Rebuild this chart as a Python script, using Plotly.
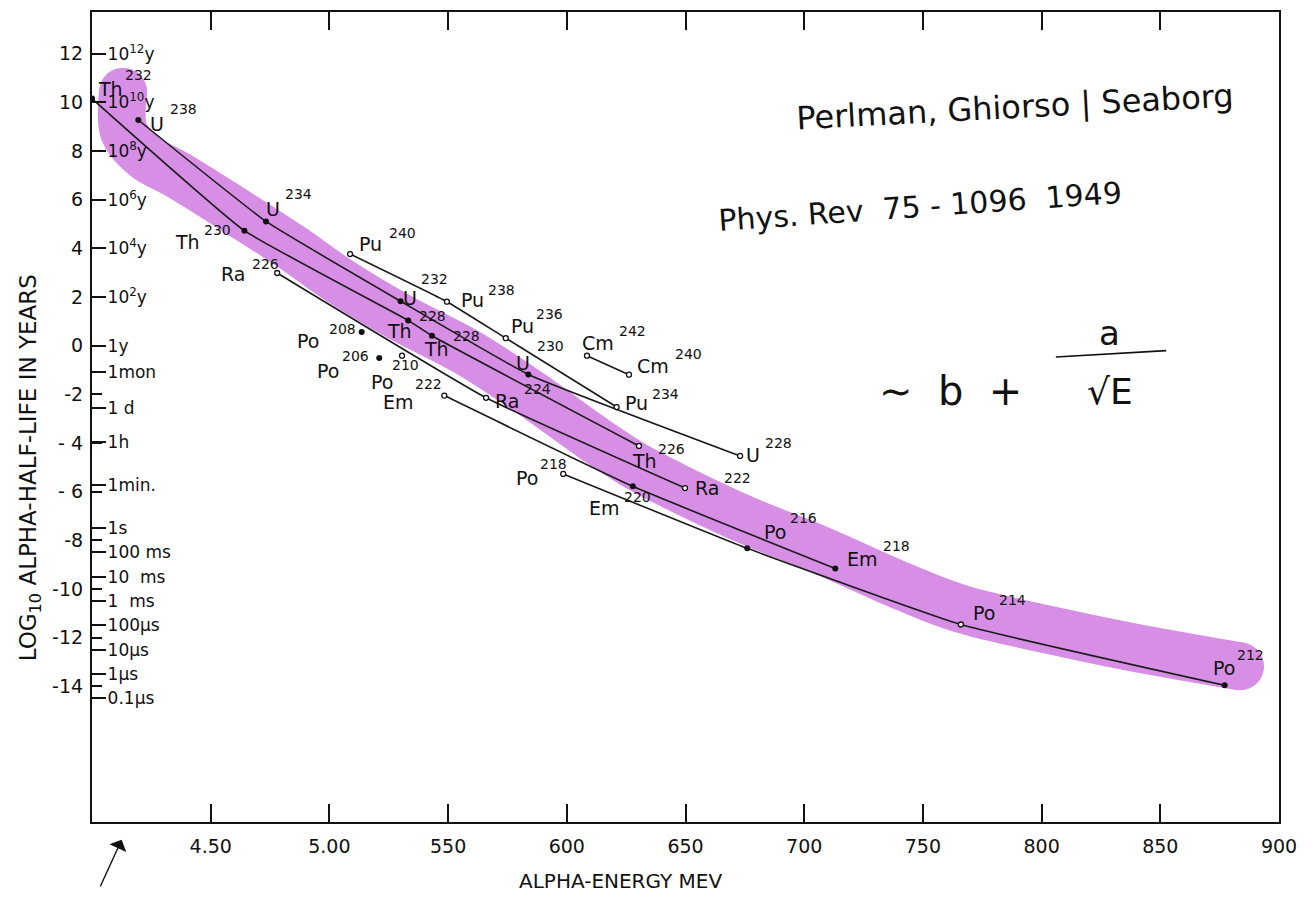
import math
import plotly.graph_objects as go

# ---------------- data ----------------
# alpha energy (MeV) and log10 alpha half-life (years)
th_E = [4.00, 4.642, 5.332, 5.432, 6.304]
th_T = [10.16, 4.73, 1.04, 0.41, -4.12]
th_A = ["232", "230", "228", "228", "226"]

u_E = [4.195, 4.733, 5.300, 5.838, 6.730]
u_T = [9.28, 5.11, 1.83, -1.18, -4.53]
u_A = ["238", "234", "232", "230", "228"]

pu_E = [5.087, 5.495, 5.743, 6.210]
pu_T = [3.77, 1.81, 0.31, -2.52]
pu_A = ["240", "238", "236", "234"]

cm_E = [6.085, 6.262]
cm_T = [-0.41, -1.19]
cm_A = ["242", "240"]

ra_E = [4.780, 5.660, 6.498]
ra_T = [2.99, -2.14, -5.85]
ra_A = ["226", "224", "222"]

em_E = [5.484, 6.278, 7.131]
em_T = [-2.05, -5.78, -9.16]
em_A = ["222", "220", "218"]

po_E = [5.985, 6.760, 7.660, 8.771]
po_T = [-5.27, -8.33, -11.46, -13.96]
po_A = ["218", "216", "214", "212"]

# isolated polonium points (no connecting line)
pol_E = [5.136, 5.210, 5.306]
pol_T = [0.56, -0.50, -0.41]
pol_A = ["208", "206", "210"]

# hand-drawn highlighter stroke along the trend
band_E = [4.131, 4.135, 4.223, 4.350, 4.455, 4.594, 4.834, 5.057, 5.297, 5.580,
          5.845, 6.110, 6.296, 6.490, 6.772, 7.054, 7.425, 7.656, 8.141, 8.499, 8.836]
band_T = [10.44, 8.80, 7.77, 7.08, 6.46, 5.60, 4.09, 2.57, 1.17, -0.27,
          -1.95, -3.80, -4.98, -5.96, -7.24, -8.34, -9.94, -10.80, -11.91, -12.61, -13.18]

# axis ticks
x_ticks = [4.5, 5.0, 5.5, 6.0, 6.5, 7.0, 7.5, 8.0, 8.5, 9.0]
x_ticklabels = ["4.50", "5.00", "550", "600", "650", "700", "750", "800", "850", "900"]
y_ticks = [12, 10, 8, 6, 4, 2, 0, -2, -4, -6, -8, -10, -12, -14]
y_ticklabels = ["12", "10", "8", "6", "4", "2", "0", "-2", "- 4", "- 6", "-8", "-10", "-12", "-14"]

# time scale (durations in years)
YEAR_S = 365.25 * 24 * 3600
time_years = [1e12, 1e10, 1e8, 1e6, 1e4, 1e2, 1.0, 1 / 12, 1 / 365.25, 1 / (365.25 * 24),
              60 / YEAR_S, 1 / YEAR_S, 0.1 / YEAR_S, 0.01 / YEAR_S, 1e-3 / YEAR_S,
              1e-4 / YEAR_S, 1e-5 / YEAR_S, 1e-6 / YEAR_S, 1e-7 / YEAR_S]
time_labels = ["10<sup>12</sup>y", "10<sup>10</sup>y", "10<sup>8</sup>y", "10<sup>6</sup>y",
               "10<sup>4</sup>y", "10<sup>2</sup>y", "1y", "1mon", "1 d", "1h", "1min.",
               "1s", "100 ms", "10  ms", "1  ms", "100μs", "10μs", "1μs", "0.1μs"]

# ---------------- styling (label offsets in px: sym dx, sym dy, mass dx, mass dy) ----------------
FONT = "DejaVu Sans, Liberation Sans, sans-serif"
series = [
    ("Th", th_E, th_T, th_A, True,
     [(18, 10, 46, 24), (-57, -11, -27, 1), (-9, -11, 24, 4), (5, -13, 35, 0), (6, -15, 33, -3)],
     [True, True, True, True, False]),
    ("U", u_E, u_T, u_A, True,
     [(19, -4, 45, 11), (7, 12, 32, 27), (9, 3, 34, 22), (-5, 11, 22, 28), (13, 1, 38, 13)],
     [True, True, True, True, False]),
    ("Pu", pu_E, pu_T, pu_A, True,
     [(20, 10, 52, 21), (26, 2, 55, 12), (17, 12, 44, 24), (20, 4, 49, 13)],
     [False, False, False, False]),
    ("Cm", cm_E, cm_T, cm_A, True,
     [(11, 13, 46, 25), (24, 9, 59, 21)],
     [False, False]),
    ("Ra", ra_E, ra_T, ra_A, True,
     [(-44, -1, -12, 9), (21, -3, 51, 9), (22, 0, 52, 10)],
     [False, False, False]),
    ("Em", em_E, em_T, em_A, True,
     [(-46, -6, -16, 12), (-28, -22, 5, -11), (27, 10, 61, 23)],
     [False, True, True]),
    ("Po", po_E, po_T, po_A, True,
     [(-36, -4, -10, 10), (28, 16, 56, 30), (23, 11, 52, 24), (-1, 17, 26, 30)],
     [False, True, False, True]),
    ("Po", pol_E, pol_T, pol_A, False,
     [(-54, -9, -19, 3), (-51, -13, -24, 2), (-20, -26, 3, -9)],
     [True, True, False]),
]

fig = go.Figure()

# highlighter band (drawn first, underneath)
BAND = "rgb(214,143,228)"
fig.add_trace(go.Scatter(x=band_E, y=band_T, mode="lines",
                         line=dict(color=BAND, width=48, shape="spline", smoothing=1.0),
                         hoverinfo="skip"))
fig.add_trace(go.Scatter(x=[band_E[0], band_E[-1]], y=[band_T[0], band_T[-1]], mode="markers",
                         marker=dict(color=BAND, size=48, line=dict(width=0)), hoverinfo="skip"))

annotations = []
for sym, E, T, A, connect, offs, filled in series:
    if connect:
        fig.add_trace(go.Scatter(x=E, y=T, mode="lines",
                                 line=dict(color="#1a1a1a", width=1.6, shape="spline", smoothing=0.35),
                                 hoverinfo="skip"))
    fx = [e for e, f in zip(E, filled) if f]
    fy = [t for t, f in zip(T, filled) if f]
    ox = [e for e, f in zip(E, filled) if not f]
    oy = [t for t, f in zip(T, filled) if not f]
    fig.add_trace(go.Scatter(x=fx, y=fy, mode="markers",
                             marker=dict(color="#111", size=6, symbol="circle"), hoverinfo="skip"))
    fig.add_trace(go.Scatter(x=ox, y=oy, mode="markers",
                             marker=dict(color="white", size=5, symbol="circle",
                                         line=dict(color="#111", width=1.3)), hoverinfo="skip"))
    for e, t, a, (sdx, sdy, mdx, mdy) in zip(E, T, A, offs):
        annotations.append(dict(x=e, y=t, xref="x", yref="y", text=sym, showarrow=False,
                                xanchor="center", yanchor="middle",
                                xshift=sdx, yshift=sdy, font=dict(family=FONT, size=19, color="#111")))
        annotations.append(dict(x=e, y=t, xref="x", yref="y", text=a, showarrow=False,
                                xanchor="center", yanchor="middle",
                                xshift=mdx, yshift=mdy, font=dict(family=FONT, size=14, color="#111")))

# axis titles
annotations.append(dict(x=-0.052, y=0.437, xref="paper", yref="paper", textangle=-90,
                        xanchor="center", yanchor="middle",
                        text="LOG<sub>10</sub> ALPHA-HALF-LIFE IN YEARS", showarrow=False,
                        font=dict(family=FONT, size=23, color="#111")))
annotations.append(dict(x=0.445, y=-0.073, xref="paper", yref="paper",
                        xanchor="center", yanchor="middle",
                        text="ALPHA-ENERGY MEV", showarrow=False,
                        font=dict(family=FONT, size=20, color="#111")))

# handwritten notes
HAND = "DejaVu Sans, sans-serif"
annotations.append(dict(x=0.7776, y=0.883, xref="paper", yref="paper", textangle=-3,
                        xanchor="center", yanchor="middle",
                        text="Perlman, Ghiorso | Seaborg", showarrow=False,
                        font=dict(family=HAND, size=32, color="#111")))
annotations.append(dict(x=0.6976, y=0.760, xref="paper", yref="paper", textangle=-4,
                        xanchor="center", yanchor="middle",
                        text="Phys. Rev  75 - 1096  1949", showarrow=False,
                        font=dict(family=HAND, size=30, color="#111")))
annotations.append(dict(x=0.7235, y=0.532, xref="paper", yref="paper",
                        xanchor="center", yanchor="middle",
                        text="∼  b  +", showarrow=False,
                        font=dict(family=HAND, size=40, color="#111")))
annotations.append(dict(x=0.8576, y=0.604, xref="paper", yref="paper",
                        xanchor="center", yanchor="middle",
                        text="a", showarrow=False,
                        font=dict(family=HAND, size=34, color="#111")))
annotations.append(dict(x=0.8576, y=0.532, xref="paper", yref="paper",
                        xanchor="center", yanchor="middle",
                        text="√E", showarrow=False,
                        font=dict(family=HAND, size=36, color="#111")))
annotations.append(dict(x=0.025, y=-0.022, xref="paper", yref="paper", text="",
                        showarrow=True, ax=-22, ay=48, arrowhead=1, arrowsize=2.2,
                        arrowwidth=1.4, arrowcolor="#111"))

shapes = [dict(type="line", xref="paper", yref="paper", x0=0.812, x1=0.905, y0=0.574, y1=0.582,
               line=dict(color="#111", width=1.6))]

fig.update_layout(
    width=1300, height=884,
    margin=dict(l=84, r=29, t=2, b=70),
    paper_bgcolor="white", plot_bgcolor="white",
    showlegend=False,
    annotations=annotations,
    shapes=shapes,
    xaxis=dict(range=[4.0, 9.0], tickvals=x_ticks, ticktext=x_ticklabels,
               ticks="inside", ticklen=18, tickwidth=1.5, tickcolor="#111",
               mirror="ticks", showline=True, linewidth=2.2, linecolor="#111",
               showgrid=False, zeroline=False, ticklabelstandoff=6,
               tickfont=dict(family=FONT, size=19, color="#111")),
    yaxis=dict(range=[-19.58, 13.72], tickvals=y_ticks, ticktext=y_ticklabels,
               ticks="inside", ticklen=10, tickwidth=1.5, tickcolor="#111",
               mirror=True, showline=True, linewidth=2.2, linecolor="#111",
               showgrid=False, zeroline=False, ticklabelstandoff=3,
               tickfont=dict(family=FONT, size=19, color="#111")),
    yaxis2=dict(range=[-19.58, 13.72], overlaying="y", anchor="x", side="left",
                tickvals=[math.log10(v) for v in time_years], ticktext=time_labels,
                ticks="inside", ticklen=14, tickwidth=1.5, tickcolor="#111",
                ticklabelposition="inside", ticklabelstandoff=2,
                showline=False, showgrid=False, zeroline=False,
                tickfont=dict(family=FONT, size=17, color="#111")),
)

# invisible trace to activate yaxis2
fig.add_trace(go.Scatter(x=[4.0], y=[0], yaxis="y2", mode="markers",
                         marker=dict(size=0, opacity=0), hoverinfo="skip"))

fig.write_html("out.html")
